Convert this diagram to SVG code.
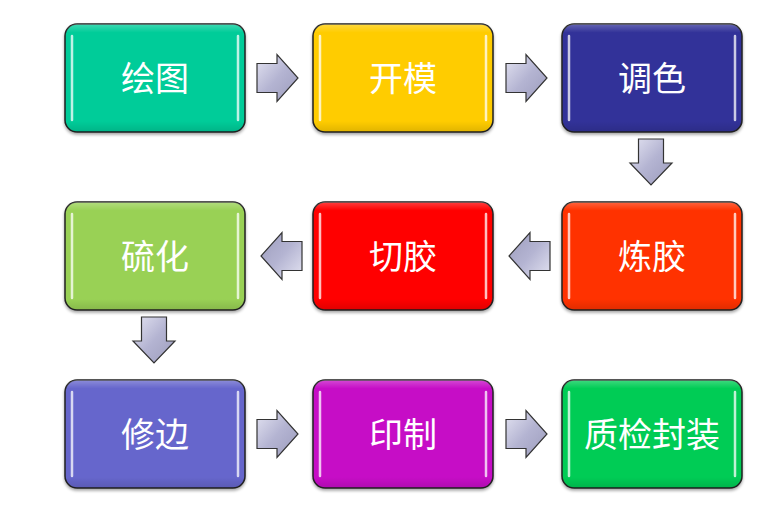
<svg xmlns="http://www.w3.org/2000/svg" width="784" height="528" viewBox="0 0 784 528">
<defs>
<linearGradient id="gloss" x1="0" y1="0" x2="0" y2="1">
<stop offset="0" stop-color="#fff" stop-opacity="0.25"/>
<stop offset="0.08" stop-color="#fff" stop-opacity="0"/>
<stop offset="0.9" stop-color="#000" stop-opacity="0"/>
<stop offset="1" stop-color="#000" stop-opacity="0.12"/>
</linearGradient>
<linearGradient id="arrowFill" x1="0" y1="0" x2="1" y2="1">
<stop offset="0" stop-color="#e4e4f2"/>
<stop offset="0.5" stop-color="#b4b4d2"/>
<stop offset="1" stop-color="#9c9cbc"/>
</linearGradient>
<filter id="shadow" x="-10%" y="-10%" width="120%" height="130%">
<feDropShadow dx="0" dy="2" stdDeviation="1.5" flood-color="#000" flood-opacity="0.35"/>
</filter>
<path id="arrR" d="M0,-14.5 H20 V-23.5 L41,0 L20,23.5 V14.5 H0 Z"/>
<path id="arrD" d="M-12.5,0 V24 H-21 L0,46 L21,24 H12.5 V0 Z"/>
</defs>
<style>
.box{stroke:#222;stroke-width:1.5;filter:url(#shadow)}
.gl{fill:url(#gloss);stroke:none}
.hl{stroke:#fff;stroke-opacity:0.75;stroke-width:2.5;stroke-linecap:round}
.lbl{font-family:"Noto Sans CJK SC","Noto Sans",sans-serif;font-size:34px;fill:#fff;text-anchor:middle;dominant-baseline:central}
.arrow{fill:url(#arrowFill);stroke:#333;stroke-width:1.2;stroke-linejoin:miter}
</style>

<g id="n1">
<rect class="box" x="65" y="24" width="180" height="108" rx="12" fill="#00CC99"/>
<rect class="gl" x="65" y="24" width="180" height="108" rx="12"/>
<line class="hl" x1="72" y1="36" x2="72" y2="120"/><line class="hl" x1="238" y1="36" x2="238" y2="120"/>
<text class="lbl" x="155" y="76">绘图</text>
</g>
<g id="n2">
<rect class="box" x="313" y="24" width="180" height="108" rx="12" fill="#FFCC00"/>
<rect class="gl" x="313" y="24" width="180" height="108" rx="12"/>
<line class="hl" x1="320" y1="36" x2="320" y2="120"/><line class="hl" x1="486" y1="36" x2="486" y2="120"/>
<text class="lbl" x="403" y="76">开模</text>
</g>
<g id="n3">
<rect class="box" x="562" y="24" width="180" height="108" rx="12" fill="#333399"/>
<rect class="gl" x="562" y="24" width="180" height="108" rx="12"/>
<line class="hl" x1="569" y1="36" x2="569" y2="120"/><line class="hl" x1="735" y1="36" x2="735" y2="120"/>
<text class="lbl" x="652" y="76">调色</text>
</g>
<g id="n4">
<rect class="box" x="562" y="202" width="180" height="108" rx="12" fill="#FF3300"/>
<rect class="gl" x="562" y="202" width="180" height="108" rx="12"/>
<line class="hl" x1="569" y1="214" x2="569" y2="298"/><line class="hl" x1="735" y1="214" x2="735" y2="298"/>
<text class="lbl" x="652" y="254">炼胶</text>
</g>
<g id="n5">
<rect class="box" x="313" y="202" width="180" height="108" rx="12" fill="#FF0000"/>
<rect class="gl" x="313" y="202" width="180" height="108" rx="12"/>
<line class="hl" x1="320" y1="214" x2="320" y2="298"/><line class="hl" x1="486" y1="214" x2="486" y2="298"/>
<text class="lbl" x="403" y="254">切胶</text>
</g>
<g id="n6">
<rect class="box" x="65" y="202" width="180" height="108" rx="12" fill="#99D155"/>
<rect class="gl" x="65" y="202" width="180" height="108" rx="12"/>
<line class="hl" x1="72" y1="214" x2="72" y2="298"/><line class="hl" x1="238" y1="214" x2="238" y2="298"/>
<text class="lbl" x="155" y="254">硫化</text>
</g>
<g id="n7">
<rect class="box" x="65" y="380" width="180" height="108" rx="12" fill="#6666CC"/>
<rect class="gl" x="65" y="380" width="180" height="108" rx="12"/>
<line class="hl" x1="72" y1="392" x2="72" y2="476"/><line class="hl" x1="238" y1="392" x2="238" y2="476"/>
<text class="lbl" x="155" y="432">修边</text>
</g>
<g id="n8">
<rect class="box" x="313" y="380" width="180" height="108" rx="12" fill="#C60CC6"/>
<rect class="gl" x="313" y="380" width="180" height="108" rx="12"/>
<line class="hl" x1="320" y1="392" x2="320" y2="476"/><line class="hl" x1="486" y1="392" x2="486" y2="476"/>
<text class="lbl" x="403" y="432">印制</text>
</g>
<g id="n9">
<rect class="box" x="562" y="380" width="180" height="108" rx="12" fill="#00CC55"/>
<rect class="gl" x="562" y="380" width="180" height="108" rx="12"/>
<line class="hl" x1="569" y1="392" x2="569" y2="476"/><line class="hl" x1="735" y1="392" x2="735" y2="476"/>
<text class="lbl" x="652" y="432">质检封装</text>
</g>

<g id="connectors">
<use class="arrow" href="#arrR" transform="translate(257,78)"/>
<use class="arrow" href="#arrR" transform="translate(506,78)"/>
<use class="arrow" href="#arrD" transform="translate(651,139)"/>
<use class="arrow" href="#arrR" transform="translate(550,256) rotate(180)"/>
<use class="arrow" href="#arrR" transform="translate(302,256) rotate(180)"/>
<use class="arrow" href="#arrD" transform="translate(154,317)"/>
<use class="arrow" href="#arrR" transform="translate(257,434)"/>
<use class="arrow" href="#arrR" transform="translate(506,434)"/>
</g>
</svg>
